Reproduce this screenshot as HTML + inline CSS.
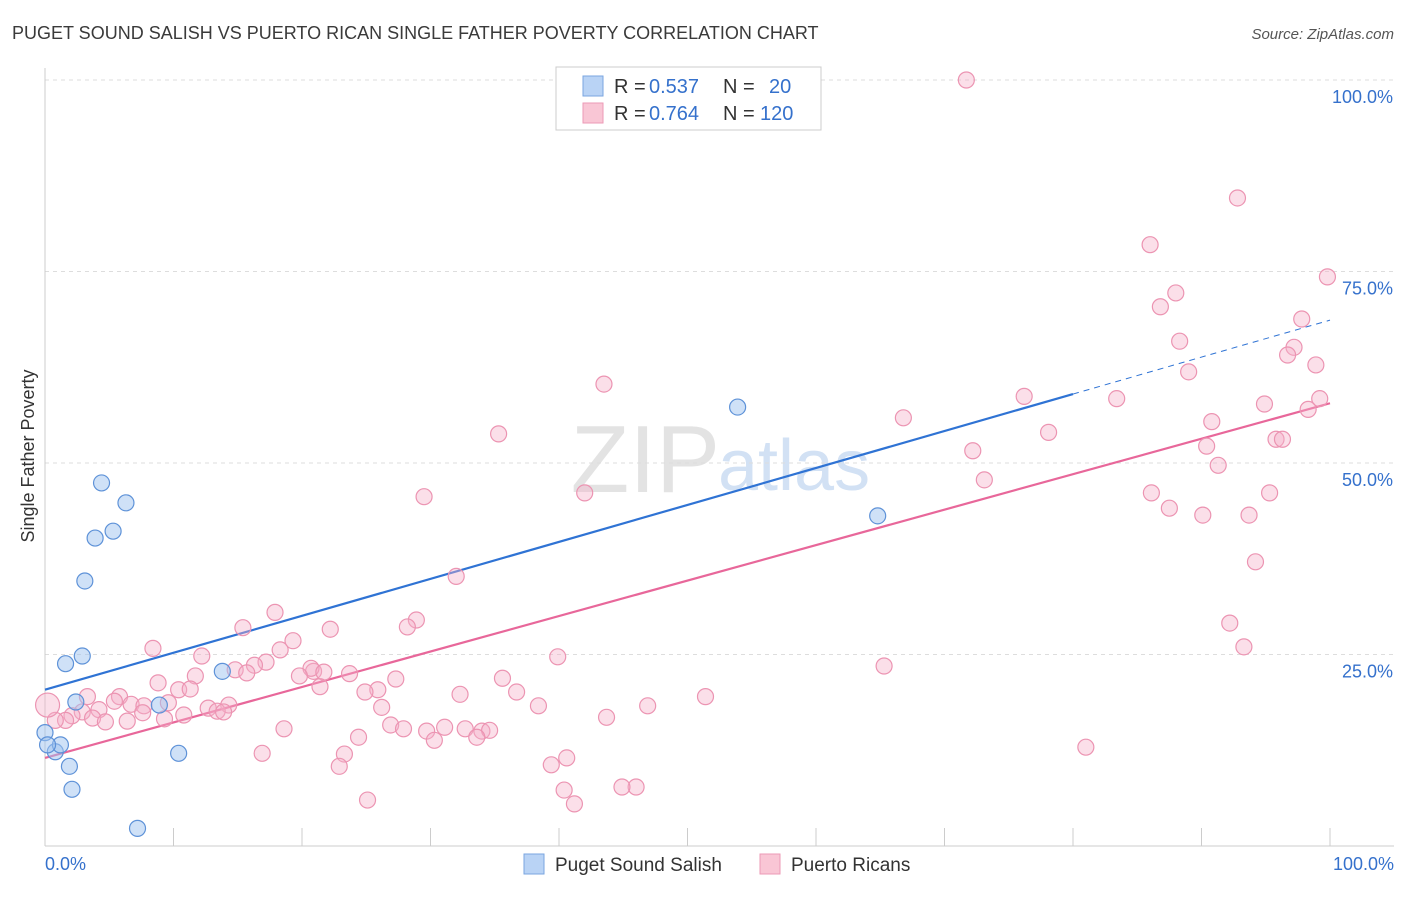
<!DOCTYPE html>
<html><head><meta charset="utf-8"><style>
body{margin:0;background:#fff;font-family:"Liberation Sans",sans-serif;}
svg text{font-family:"Liberation Sans",sans-serif;}
</style></head><body>
<svg id="chart" width="1406" height="892" xmlns="http://www.w3.org/2000/svg">
<text x="12" y="39" font-size="18" fill="#3a3a3a">PUGET SOUND SALISH VS PUERTO RICAN SINGLE FATHER POVERTY CORRELATION CHART</text>
<text x="1394" y="39" font-size="15" fill="#555" text-anchor="end" font-style="italic">Source: ZipAtlas.com</text>
<text transform="translate(34,456) rotate(-90)" font-size="18" fill="#333" text-anchor="middle">Single Father Poverty</text>
<text x="720" y="492" font-size="96" fill="#ddd" text-anchor="end" font-family="Liberation Serif" opacity="0.8">ZIP</text>
<text x="718" y="490" font-size="72" fill="#c8daf2" opacity="0.8">atlas</text>
<g id="grid"></g><g id="axes"></g><g id="trend"></g><g id="pts"></g>
<g>
<rect x="556" y="67" width="265" height="63" fill="#fff" stroke="#ccc"/>
<rect x="583" y="76" width="20" height="20" fill="#b9d3f5" stroke="#7aa6e0"/>
<rect x="583" y="103" width="20" height="20" fill="#f9c6d5" stroke="#ec9ab6"/>
<text y="93" font-size="20" fill="#333"><tspan x="614">R =</tspan><tspan x="649" fill="#3571cc">0.537</tspan><tspan x="723">N =</tspan><tspan x="769" fill="#3571cc">20</tspan></text>
<text y="120" font-size="20" fill="#333"><tspan x="614">R =</tspan><tspan x="649" fill="#3571cc">0.764</tspan><tspan x="723">N =</tspan><tspan x="760" fill="#3571cc">120</tspan></text>
</g>
<g>
<rect x="524" y="854" width="20" height="20" fill="#b9d3f5" stroke="#7aa6e0"/>
<text x="555" y="871" font-size="19" fill="#333">Puget Sound Salish</text>
<rect x="760" y="854" width="20" height="20" fill="#f9c6d5" stroke="#ec9ab6"/>
<text x="791" y="871" font-size="19" fill="#333">Puerto Ricans</text>
</g>
</svg>
<script>
const xTicks=[0,10,20,30,40,50,60,70,80,90,100];
const yTicks=[25,50,75,100];
const yTickLabels=["25.0%","50.0%","75.0%","100.0%"];
const xEndLabels=["0.0%","100.0%"];
const blueX=[0,0.8,1.2,1.9,2.1,1.6,2.9,3.1,3.9,4.4,5.3,6.3,2.4,7.2,8.9,10.4,13.8,53.9,64.8,0.2];
const blueY=[14.8,12.3,13.2,10.4,7.4,23.8,24.8,34.6,40.2,47.4,41.1,44.8,18.8,2.3,18.4,12.1,22.8,57.3,43.1,13.2];
const pinkX=[71.7,92.8,86.0,99.8,88.0,86.8,97.8,88.3,97.2,96.7,98.9,89.0,43.5,76.2,83.4,94.9,99.2,98.3,66.8,90.8,35.3,78.1,95.8,96.3,90.4,72.2,91.3,73.1,86.1,95.3,42.0,29.5,87.5,90.1,93.7,94.2,32.0,92.2,17.9,28.9,28.2,22.2,15.4,19.3,93.3,8.4,12.2,18.3,39.9,65.3,17.2,16.3,14.8,15.7,20.9,20.7,21.7,23.7,19.8,27.3,35.6,11.7,10.4,11.3,8.8,21.4,25.9,24.9,32.3,36.7,51.4,3.3,5.8,5.4,6.7,7.7,9.6,14.3,12.7,13.4,13.9,26.2,38.4,46.9,2.9,4.2,7.6,2.1,3.7,4.7,6.4,9.3,10.8,1.6,0.8,0.2,43.7,18.6,26.9,27.9,31.1,29.7,32.7,34.0,34.6,33.6,30.3,24.4,16.9,23.3,81.0,40.6,39.4,22.9,40.4,46.0,44.9,25.1,41.2];
const pinkY=[100,84.6,78.5,74.3,72.2,70.4,68.8,65.9,65.1,64.1,62.8,61.9,60.3,58.7,58.4,57.7,58.4,57.0,55.9,55.4,53.8,54.0,53.1,53.1,52.2,51.6,49.7,47.8,46.1,46.1,46.1,45.6,44.1,43.2,43.2,37.1,35.2,29.1,30.5,29.5,28.6,28.3,28.5,26.8,26.0,25.8,24.8,25.6,24.7,23.5,24.0,23.6,23.0,22.6,22.8,23.2,22.7,22.5,22.2,21.8,21.9,22.2,20.4,20.5,21.3,20.8,20.4,20.1,19.8,20.1,19.5,19.5,19.5,18.9,18.5,18.3,18.7,18.4,18.0,17.6,17.5,18.1,18.3,18.3,17.5,17.8,17.4,17.0,16.7,16.2,16.3,16.6,17.1,16.4,16.4,18.4,16.8,15.3,15.8,15.3,15.5,15.0,15.3,15.0,15.1,14.2,13.8,14.2,12.1,12.0,12.9,11.5,10.6,10.4,7.3,7.7,7.7,6.0,5.5];
const blueTrend=[20.4,0.4825];
const pinkTrend=[11.5,0.463];
const X=v=>45+v*12.85, Y=v=>846-v*7.66;
const NS="http://www.w3.org/2000/svg";
function mk(p,t,a){const e=document.createElementNS(NS,t);for(const k in a)e.setAttribute(k,a[k]);document.getElementById(p).appendChild(e);return e;}
yTicks.forEach((t,i)=>{
 const g=mk('grid','line',{x1:45,x2:1394,y1:Y(t),y2:Y(t),stroke:'#ddd','stroke-dasharray':'4,4'});
 
 
 const l=mk('axes','text',{x:1393,y:Y(t)+23,'font-size':18,fill:'#3571cc','text-anchor':'end'});l.textContent=yTickLabels[i];
 
 
});
const ax=mk('axes','line',{x1:45,x2:1394,y1:846,y2:846,stroke:'#ccc'});


const ay=mk('axes','line',{x1:45,x2:45,y1:68,y2:846,stroke:'#ccc'});


xTicks.forEach(t=>{const k=mk('axes','line',{x1:X(t),x2:X(t),y1:828,y2:846,stroke:'#ccc'});
 
 });
[[0,'start',45],[100,'end',1394]].forEach((d,i)=>{const l=mk('axes','text',{x:d[2],y:870,'font-size':18,fill:'#3571cc','text-anchor':d[1]});l.textContent=xEndLabels[i];
 
 });
function tl(tr,x0,x1,col,dash,name){const e=mk('trend','line',{x1:X(x0),y1:Y(tr[0]+tr[1]*x0),x2:X(x1),y2:Y(tr[0]+tr[1]*x1),stroke:col,'stroke-width':dash?1:2.2,'stroke-dasharray':dash?'6,5':'none'});
 
 }
tl(blueTrend,0,80,'#2f73d4',false,'salish-trend-line');
tl(blueTrend,80,100,'#2f73d4',true,'salish-trend-extension');
tl(pinkTrend,0,100,'#e8679a',false,'puerto-rican-trend-line');
pinkX.forEach((x,i)=>{const c=mk('pts','circle',{cx:X(x),cy:Y(pinkY[i]),r:i==95?12:8,fill:'rgba(245,176,200,0.4)',stroke:'#ec94b2','stroke-width':1.2});
 
 });
blueX.forEach((x,i)=>{const c=mk('pts','circle',{cx:X(x),cy:Y(blueY[i]),r:8,fill:'rgba(160,196,240,0.5)',stroke:'#5e92d8','stroke-width':1.2});
 
 });
</script>
</body></html>
